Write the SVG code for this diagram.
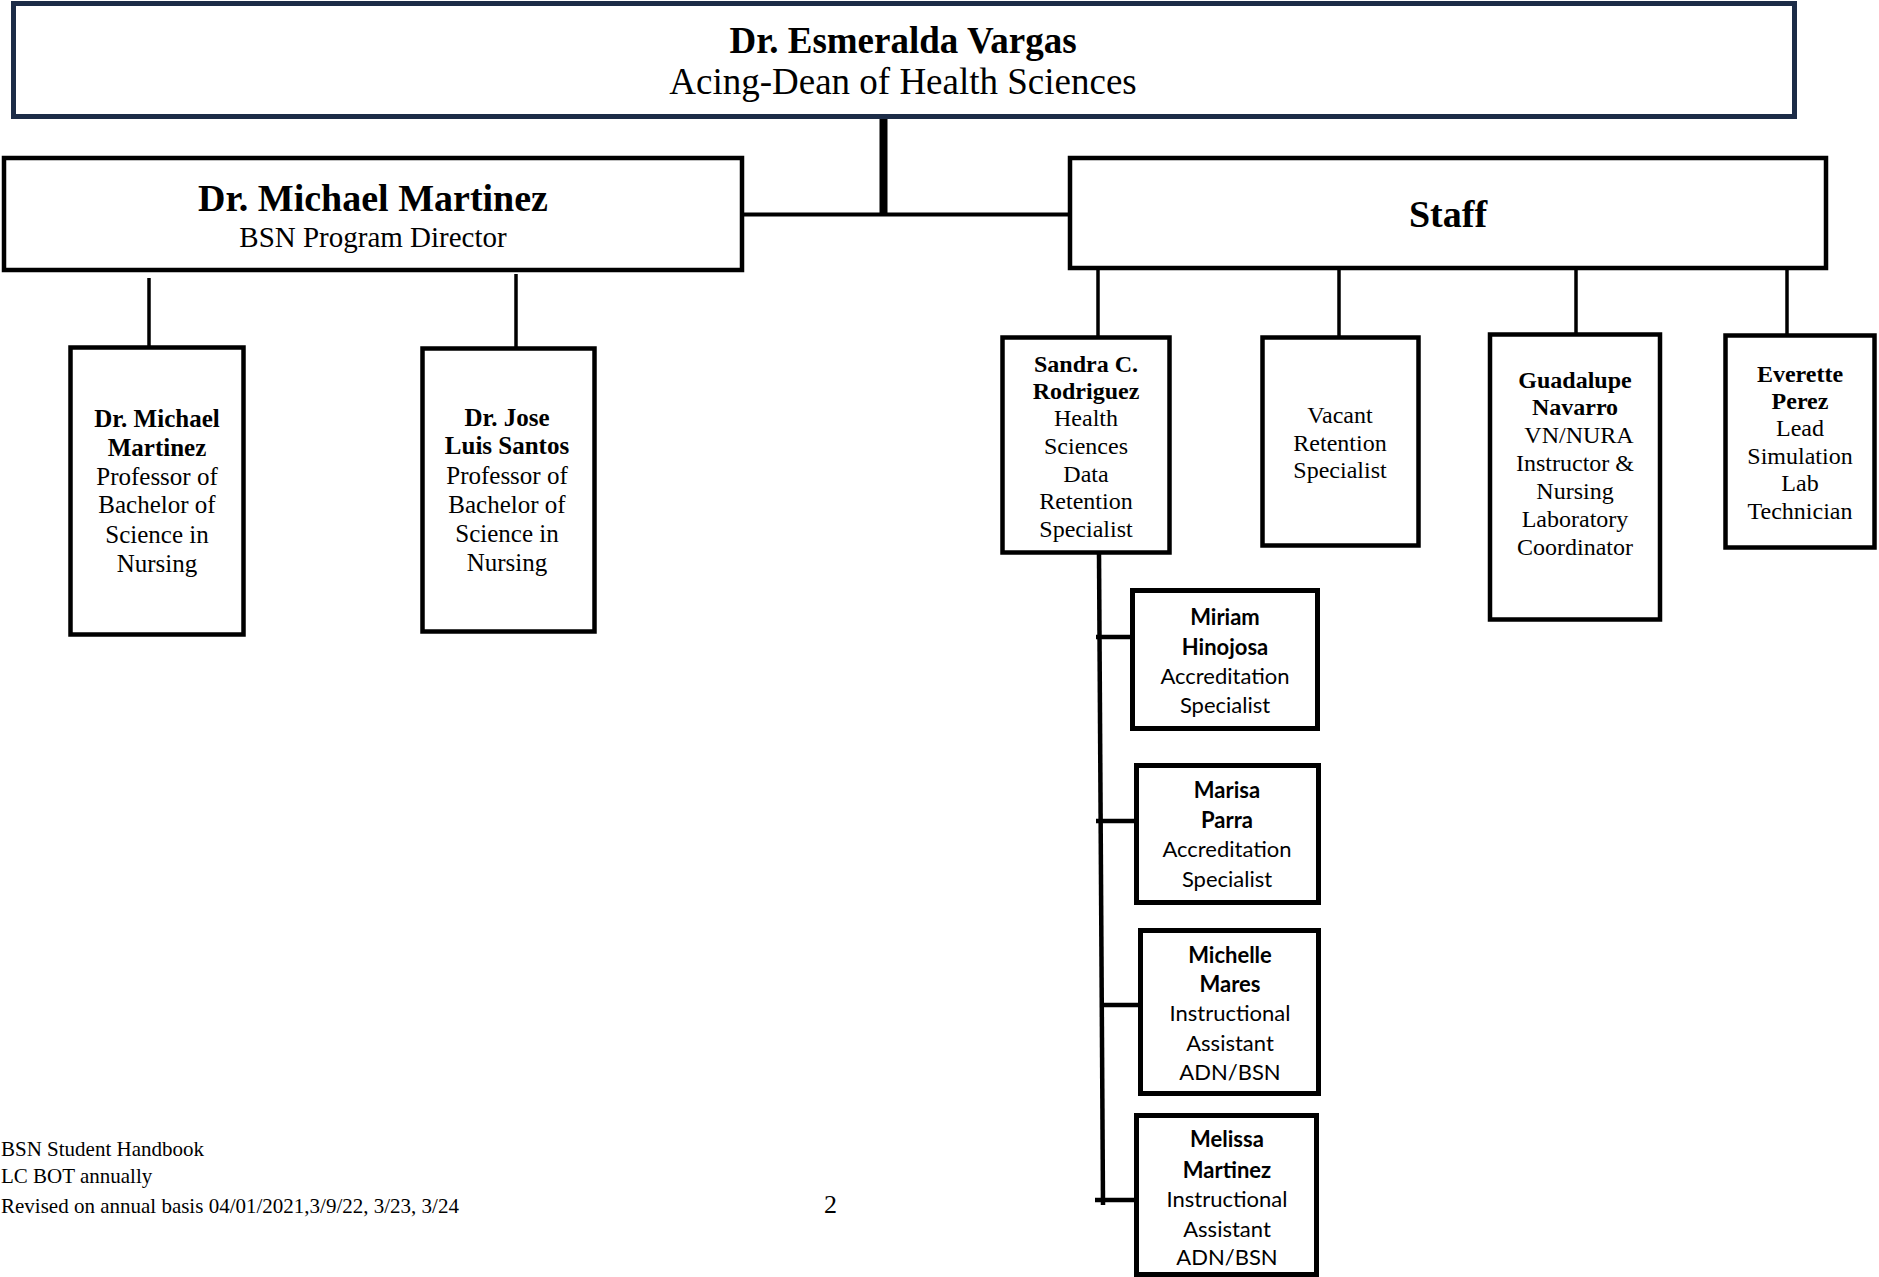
<svg xmlns="http://www.w3.org/2000/svg" width="1879" height="1277" viewBox="0 0 1879 1277">
<style>
.bg{fill:#ffffff}
.box{fill:#ffffff;stroke:#000000;stroke-width:4.5}
.sub{fill:#ffffff;stroke:#000000;stroke-width:5}
.top{fill:#ffffff;stroke:#1c2c47;stroke-width:5}
.ln{stroke:#000000;stroke-width:3.5;fill:none}
.ln4{stroke:#000000;stroke-width:4.5;fill:none}
.serif{font-family:"Liberation Serif","Times New Roman",serif;fill:#000000}
.sans{font-family:Lato,"Open Sans",sans-serif;fill:#000000}
.b{font-weight:bold}
.c{text-anchor:middle}
.t25{font-size:25px}
.t24{font-size:24px}
.s22{font-size:22px}
</style>
<rect class="bg" x="0" y="0" width="1879" height="1277"/>
<g id="connectors">
<line x1="883.5" y1="117" x2="883.5" y2="216" stroke="#000" stroke-width="8"/>
<line x1="742" y1="214.5" x2="1070" y2="214.5" stroke="#000" stroke-width="4"/>
<line class="ln" x1="149" y1="278" x2="149" y2="347"/>
<line class="ln" x1="516" y1="274" x2="516" y2="348"/>
<line class="ln" x1="1098" y1="268" x2="1098" y2="337"/>
<line class="ln" x1="1339" y1="268" x2="1339" y2="337"/>
<line class="ln" x1="1576" y1="268" x2="1576" y2="334"/>
<line class="ln" x1="1787" y1="268" x2="1787" y2="335"/>
<line class="ln4" x1="1099" y1="553" x2="1103" y2="1205"/>
<line class="ln4" x1="1096" y1="637" x2="1132" y2="637"/>
<line class="ln4" x1="1096" y1="821" x2="1136" y2="821"/>
<line class="ln4" x1="1101" y1="1005" x2="1140" y2="1005"/>
<line class="ln4" x1="1095" y1="1200" x2="1136" y2="1200"/>
</g>
<g id="dean">
<rect class="top" x="13.5" y="3.5" width="1781" height="113"/>
<text class="serif b c" x="903" y="53" font-size="37">Dr. Esmeralda Vargas</text>
<text class="serif c" x="903" y="94" font-size="37">Acing-Dean of Health Sciences</text>
</g>
<g id="director">
<rect class="box" x="4" y="158" width="738" height="112"/>
<text class="serif b c" x="373" y="211" font-size="38">Dr. Michael Martinez</text>
<text class="serif c" x="373" y="247" font-size="29">BSN Program Director</text>
</g>
<g id="staff">
<rect class="box" x="1070" y="158" width="756" height="110"/>
<text class="serif b c" x="1448" y="227" font-size="38">Staff</text>
</g>
<g id="prof-martinez">
<rect class="box" x="70.5" y="347.5" width="173" height="287"/>
<text class="serif t25 c" x="157"><tspan class="b" x="157" y="427">Dr. Michael</tspan><tspan class="b" x="157" y="456">Martinez</tspan><tspan x="157" y="485">Professor of</tspan><tspan x="157" y="513">Bachelor of</tspan><tspan x="157" y="543">Science in</tspan><tspan x="157" y="572">Nursing</tspan></text>
</g>
<g id="prof-santos">
<rect class="box" x="422.5" y="348.5" width="172" height="283"/>
<text class="serif t25 c" x="507"><tspan class="b" x="507" y="426">Dr. Jose</tspan><tspan class="b" x="507" y="454">Luis Santos</tspan><tspan x="507" y="484">Professor of</tspan><tspan x="507" y="513">Bachelor of</tspan><tspan x="507" y="542">Science in</tspan><tspan x="507" y="571">Nursing</tspan></text>
</g>
<g id="rodriguez">
<rect class="box" x="1002.5" y="337.5" width="167" height="215"/>
<text class="serif t24 c" x="1086"><tspan class="b" x="1086" y="372">Sandra C.</tspan><tspan class="b" x="1086" y="399">Rodriguez</tspan><tspan x="1086" y="426">Health</tspan><tspan x="1086" y="454">Sciences</tspan><tspan x="1086" y="482">Data</tspan><tspan x="1086" y="509">Retention</tspan><tspan x="1086" y="537">Specialist</tspan></text>
</g>
<g id="vacant">
<rect class="box" x="1262.5" y="337.5" width="156" height="208"/>
<text class="serif t24 c" x="1340"><tspan x="1340" y="423">Vacant</tspan><tspan x="1340" y="451">Retention</tspan><tspan x="1340" y="478">Specialist</tspan></text>
</g>
<g id="navarro">
<rect class="box" x="1490" y="334.5" width="170" height="285"/>
<text class="serif t24 c" x="1575"><tspan class="b" x="1575" y="388">Guadalupe</tspan><tspan class="b" x="1575" y="415">Navarro</tspan><tspan x="1579" y="443">VN/NURA</tspan><tspan x="1575" y="471">Instructor &amp;</tspan><tspan x="1575" y="499">Nursing</tspan><tspan x="1575" y="527">Laboratory</tspan><tspan x="1575" y="555">Coordinator</tspan></text>
</g>
<g id="perez">
<rect class="box" x="1725.5" y="335.5" width="149" height="212"/>
<text class="serif t24 c" x="1800"><tspan class="b" x="1800" y="382">Everette</tspan><tspan class="b" x="1800" y="409">Perez</tspan><tspan x="1800" y="436">Lead</tspan><tspan x="1800" y="464">Simulation</tspan><tspan x="1800" y="491">Lab</tspan><tspan x="1800" y="519">Technician</tspan></text>
</g>
<g id="hinojosa">
<rect class="sub" x="1132.5" y="590.5" width="185" height="138"/>
<text class="sans s22 c" x="1225"><tspan class="b" x="1225" y="625">Miriam</tspan><tspan class="b" x="1225" y="655">Hinojosa</tspan><tspan x="1225" y="684">Accreditation</tspan><tspan x="1225" y="713">Specialist</tspan></text>
</g>
<g id="parra">
<rect class="sub" x="1136.5" y="765.5" width="182" height="137"/>
<text class="sans s22 c" x="1227"><tspan class="b" x="1227" y="798">Marisa</tspan><tspan class="b" x="1227" y="828">Parra</tspan><tspan x="1227" y="857">Accreditation</tspan><tspan x="1227" y="887">Specialist</tspan></text>
</g>
<g id="mares">
<rect class="sub" x="1140.5" y="930.5" width="178" height="163"/>
<text class="sans s22 c" x="1230"><tspan class="b" x="1230" y="963">Michelle</tspan><tspan class="b" x="1230" y="992">Mares</tspan><tspan x="1230" y="1021">Instructional</tspan><tspan x="1230" y="1051">Assistant</tspan><tspan x="1230" y="1080">ADN/BSN</tspan></text>
</g>
<g id="melissa-martinez">
<rect class="sub" x="1136.5" y="1115.5" width="180" height="159"/>
<text class="sans s22 c" x="1227"><tspan class="b" x="1227" y="1147">Melissa</tspan><tspan class="b" x="1227" y="1178">Martinez</tspan><tspan x="1227" y="1207">Instructional</tspan><tspan x="1227" y="1237">Assistant</tspan><tspan x="1227" y="1265">ADN/BSN</tspan></text>
</g>
<g id="footer">
<text class="serif" x="1" y="1156" font-size="21">BSN Student Handbook</text>
<text class="serif" x="1" y="1183" font-size="21">LC BOT annually</text>
<text class="serif" x="1" y="1213" font-size="21">Revised on annual basis 04/01/2021,3/9/22, 3/23, 3/24</text>
<text class="serif" x="824" y="1213" font-size="26">2</text>
</g>
</svg>
